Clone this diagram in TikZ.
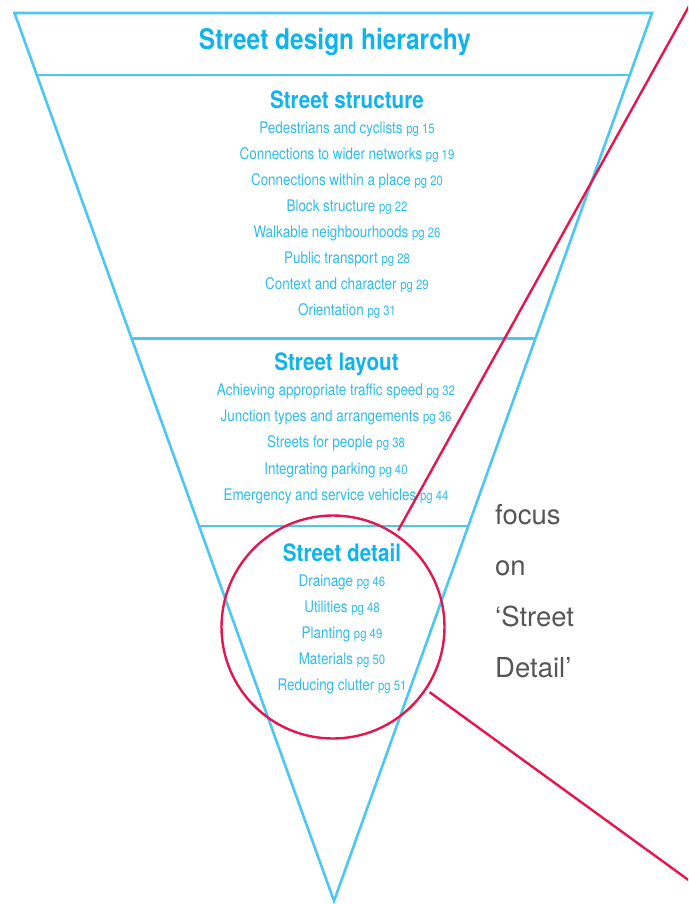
\documentclass[tikz,border=0pt]{standalone}
\usepackage{fontspec}
\setmainfont{TeX Gyre Heros}
\newfontfamily\headfont[FakeStretch=0.86]{TeX Gyre Heros}
\newfontfamily\itemfont[FakeStretch=0.84]{TeX Gyre Heros}
\usetikzlibrary{calc}
\definecolor{funnelblue}{HTML}{4CC8F0}
\definecolor{headblue}{HTML}{10B4EA}
\definecolor{itemblue}{HTML}{2DBCEC}
\definecolor{lensred}{HTML}{E5164F}
\definecolor{focusgrey}{HTML}{555557}
\newcommand{\pg}[1]{{\fontsize{13.5}{13.5}\selectfont pg #1}}
\begin{document}
\begin{tikzpicture}[x=1pt,y=-1pt,
    edge/.style={draw=funnelblue,line width=2.6pt,line join=miter},
    lensline/.style={draw=lensred,line width=2.4pt},
    title/.style={anchor=base,text=headblue,inner sep=0pt,
      font=\headfont\bfseries\fontsize{28.5}{28.5}\selectfont},
    heading/.style={anchor=base,text=headblue,inner sep=0pt,
      font=\headfont\bfseries\fontsize{24}{24}\selectfont},
    entry/.style={anchor=base,text=itemblue,inner sep=0pt,
      font=\itemfont\fontsize{16}{16}\selectfont},
    focustext/.style={anchor=base west,text=focusgrey,inner sep=0pt,
      font=\fontsize{27.5}{27.5}\selectfont}]
  \useasboundingbox (0,0) rectangle (688,904);
  \clip (0,0) rectangle (688,904);
  \coordinate (tl) at (14.5,13);
  \coordinate (tr) at (652,13);
  \coordinate (apex) at (334,901);
  \draw[edge] (tl) -- (tr) -- (apex) -- cycle;
  \foreach \band/\t in {top/0.0698, mid/0.3666, low/0.5777}
    \draw[edge] ($(tl)!\t!(apex)$) coordinate (\band l)
      -- ($(tr)!\t!(apex)$) coordinate (\band r);
  \node[title] (hierarchy) at (335,50) {Street design hierarchy};
  \node[heading] (structure) at (347,108.3) {Street structure};
  \foreach \txt/\p [count=\i] in {Pedestrians and cyclists/15,
      Connections to wider networks/19, Connections within a place/20,
      Block structure/22, Walkable neighbourhoods/26, Public transport/28,
      Context and character/29, Orientation/31}
    \node[entry] (structure\i) at (347,{133.3+26*(\i-1)}) {\txt\ \pg{\p}};
  \node[heading] (layout) at (336.5,370.5) {Street layout};
  \foreach \txt/\p [count=\i] in {Achieving appropriate traffic speed/32,
      Junction types and arrangements/36, Streets for people/38,
      Integrating parking/40, Emergency and service vehicles/44}
    \node[entry] (layout\i) at (336,{395.7+26.1*(\i-1)}) {\txt\ \pg{\p}};
  \node[heading] (detail) at (342,561.7) {Street detail};
  \foreach \txt/\p [count=\i] in {Drainage/46, Utilities/48, Planting/49,
      Materials/50, Reducing clutter/51}
    \node[entry] (detail\i) at (342,{586+26.2*(\i-1)}) {\txt\ \pg{\p}};
  \foreach \txt [count=\i] in {focus, on, ‘Street, Detail’}
    \node[focustext] (focus\i) at (495,{524+51*(\i-1)}) {\txt};
  \node[draw=lensred,line width=2.4pt,circle,minimum size=223pt,
    inner sep=0pt,outer sep=5pt] (lens) at (333,627) {};
  \coordinate (upperend) at (698,-10);
  \coordinate (lowerend) at (705,892);
  \draw[lensline] (lens.56) -- (upperend);
  \draw[lensline] (lens.-34) -- (lowerend);
\end{tikzpicture}
\end{document}
